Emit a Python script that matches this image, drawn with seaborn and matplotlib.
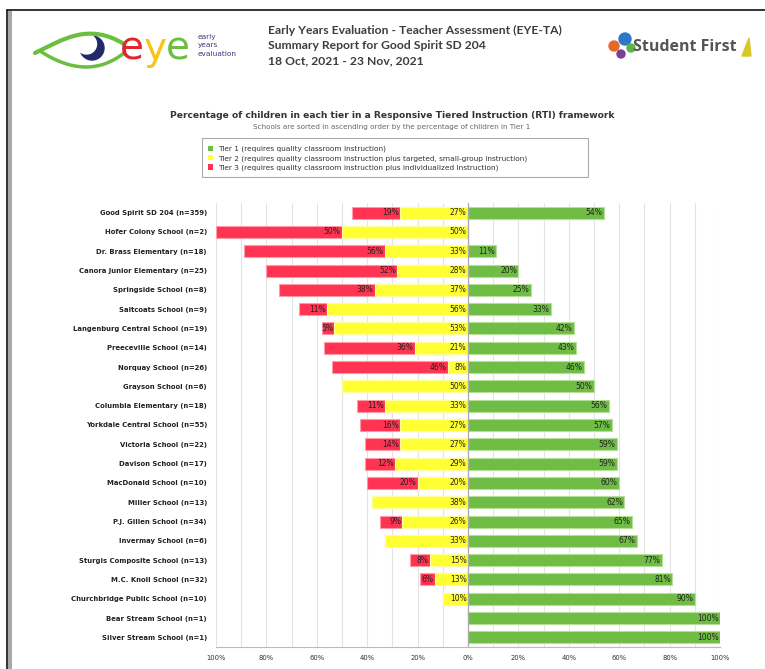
import matplotlib
matplotlib.use('Agg')
import matplotlib.pyplot as plt
import seaborn as sns
from matplotlib.patches import Rectangle, Circle, PathPatch, Patch, Polygon
from matplotlib.path import Path

# Data (top to bottom, as in the report)
schools = ['Good Spirit SD 204 (n=359)', 'Hofer Colony School (n=2)', 'Dr. Brass Elementary (n=18)',
           'Canora Junior Elementary (n=25)', 'Springside School (n=8)', 'Saltcoats School (n=9)',
           'Langenburg Central School (n=19)', 'Preeceville School (n=14)', 'Norquay School (n=26)',
           'Grayson School (n=6)', 'Columbia Elementary (n=18)', 'Yorkdale Central School (n=55)',
           'Victoria School (n=22)', 'Davison School (n=17)', 'MacDonald School (n=10)',
           'Miller School (n=13)', 'P.J. Gillen School (n=34)', 'Invermay School (n=6)',
           'Sturgis Composite School (n=13)', 'M.C. Knoll School (n=32)',
           'Churchbridge Public School (n=10)', 'Bear Stream School (n=1)', 'Silver Stream School (n=1)']
tier1 = [54, 0, 11, 20, 25, 33, 42, 43, 46, 50, 56, 57, 59, 59, 60, 62, 65, 67, 77, 81, 90, 100, 100]
tier2 = [27, 50, 33, 28, 37, 56, 53, 21, 8, 50, 33, 27, 27, 29, 20, 38, 26, 33, 15, 13, 10, 0, 0]
tier3 = [19, 50, 56, 52, 38, 11, 5, 36, 46, 0, 11, 16, 14, 12, 20, 0, 9, 0, 8, 6, 0, 0, 0]
tick_vals = [-100, -80, -60, -40, -20, 0, 20, 40, 60, 80, 100]
tick_text = ['100%', '80%', '60%', '40%', '20%', '0%', '20%', '40%', '60%', '80%', '100%']
legend_labels = ['Tier 1 (requires quality classroom instruction)',
                 'Tier 2 (requires quality classroom instruction plus targeted, small-group instruction)',
                 'Tier 3 (requires quality classroom instruction plus individualized instruction)']

GREEN, YELLOW, RED = '#6fbd45', '#ffff33', '#ff3352'

sns.set_style('white')
plt.rcParams['font.family'] = ['DejaVu Sans']

fig = plt.figure(figsize=(7.65, 6.69), dpi=100)
ax = fig.add_axes([216 / 765, 1 - 647 / 669, 504 / 765, 444 / 669])

# diverging stacked bars: red under yellow on the left, green on the right
neg_outer = [-(a + b) for a, b in zip(tier2, tier3)]
neg_inner = [-b for b in tier2]
sns.barplot(x=neg_outer, y=schools, orient='h', color=RED, saturation=1, width=0.62,
            edgecolor='#ff9aa9', linewidth=0.8, ax=ax, zorder=3)
sns.barplot(x=neg_inner, y=schools, orient='h', color=YELLOW, saturation=1, width=0.62,
            edgecolor='#ffffa0', linewidth=0.8, ax=ax, zorder=3)
sns.barplot(x=tier1, y=schools, orient='h', color=GREEN, saturation=1, width=0.62,
            edgecolor='#b4e09a', linewidth=0.8, ax=ax, zorder=3)

for i in range(len(schools)):
    for val, xpos in ((tier3[i], -tier2[i]), (tier2[i], 0), (tier1[i], tier1[i])):
        if val > 0:
            ax.annotate(f'{val}%', (xpos, i), xytext=(-1, 0), textcoords='offset points',
                        ha='right', va='center', fontsize=5.5, color='#222222', zorder=5)

ax.set_xlim(-100, 100)
ax.set_ylim(len(schools) - 0.5, -0.5)
ax.set_xticks(tick_vals)
ax.set_xticklabels(tick_text, fontsize=4.9, color='#333333')
ax.set_xticks(range(-100, 101, 10), minor=True)
ax.grid(True, axis='x', which='both', color='#e4e4e4', linewidth=0.8, zorder=0)
ax.grid(False, axis='y')
ax.axvline(0, color='#aaaaaa', linewidth=0.9, zorder=4)
ax.set_xlabel('')
ax.set_ylabel('')
ax.tick_params(axis='y', length=0, pad=6.5, labelsize=4.95, labelcolor='#222222')
for lab in ax.get_yticklabels():
    lab.set_fontweight('bold')
ax.tick_params(axis='x', which='both', length=3, color='#bbbbbb', pad=3)
for s in ['top', 'right', 'left']:
    ax.spines[s].set_visible(False)
ax.spines['bottom'].set_color('#bbbbbb')

# titles and legend
fig.text(392 / 765, 1 - 115 / 669,
         'Percentage of children in each tier in a Responsive Tiered Instruction (RTI) framework',
         ha='center', va='center', fontsize=6.6, fontweight='bold', color='#333333')
fig.text(392 / 765, 1 - 127 / 669,
         'Schools are sorted in ascending order by the percentage of children in Tier 1',
         ha='center', va='center', fontsize=5.25, color='#666666')
handles = [Patch(facecolor=c, edgecolor='none') for c in (GREEN, YELLOW, RED)]
fig.legend(handles, legend_labels, loc='upper left', bbox_to_anchor=(204 / 765, 1 - 142 / 669),
           frameon=False, fontsize=5.3, handlelength=0.75, handleheight=0.75, handletextpad=0.7,
           labelspacing=0.35, borderpad=0, labelcolor='#333333')

# page overlay in pixel coordinates: frame, header and logos
hd = fig.add_axes([0, 0, 1, 1], zorder=-1)
hd.set_xlim(0, 765)
hd.set_ylim(669, 0)
hd.axis('off')
hd.add_patch(Rectangle((202, 138), 386, 39, fill=False, edgecolor='#aaaaaa', linewidth=0.8))
hd.plot([7, 765], [9.5, 9.5], color='#111111', linewidth=1.2)
hd.plot([7, 7], [9.5, 669], color='#111111', linewidth=1.2)
hd.add_patch(Rectangle((8.5, 11), 4, 658, color='#a8a8a8', linewidth=0))

for k, line in enumerate(['Early Years Evaluation - Teacher Assessment (EYE-TA)',
                          'Summary Report for Good Spirit SD 204',
                          '18 Oct, 2021 - 23 Nov, 2021']):
    hd.text(268, 30 + k * 15.5, line, ha='left', va='center', fontsize=8.7,
            fontweight='bold', family='Lato', color='#3d3d3d')

# eye logo
hd.add_patch(Circle((92, 48), 12, color='#232a6b'))
hd.add_patch(Circle((86.5, 44), 10, color='white'))
top = Path([(35, 53), (62, 40), (88, 22), (124, 44)], [Path.MOVETO, Path.CURVE4, Path.CURVE4, Path.CURVE4])
low = Path([(40, 51), (72, 72), (100, 72), (124, 53)], [Path.MOVETO, Path.CURVE4, Path.CURVE4, Path.CURVE4])
hd.add_patch(PathPatch(top, fill=False, edgecolor='#6cbf3e', linewidth=3, capstyle='round'))
hd.add_patch(PathPatch(low, fill=False, edgecolor='#6cbf3e', linewidth=2.5, capstyle='round'))
for ch, xx, col in (('e', 120, '#e3262c'), ('y', 144, '#f7c51a'), ('e', 166, '#6cbf3e')):
    hd.text(xx, 49, ch, ha='left', va='center', fontsize=28, family='DejaVu Sans', color=col)
for k, w in enumerate(['early', 'years', 'evaluation']):
    hd.text(198, 37 + k * 8.5, w, ha='left', va='center', fontsize=5.3, color='#3a3a7a')

# Student First logo
for (cx, cy, r, col) in ((614, 46, 5, '#e4682a'), (625, 39, 6, '#2b78c4'),
                         (631, 48, 4, '#5cb547'), (621, 54, 4, '#7b3f98')):
    hd.add_patch(Circle((cx, cy), r, color=col))
hd.text(633, 47, 'Student First', ha='left', va='center', fontsize=11.5,
        fontweight='bold', family='Open Sans', color='#555555')
hd.add_patch(Polygon([(742, 56), (749, 38), (751, 56)], color='#d9c62a'))

fig.savefig('out.png', dpi=100)
